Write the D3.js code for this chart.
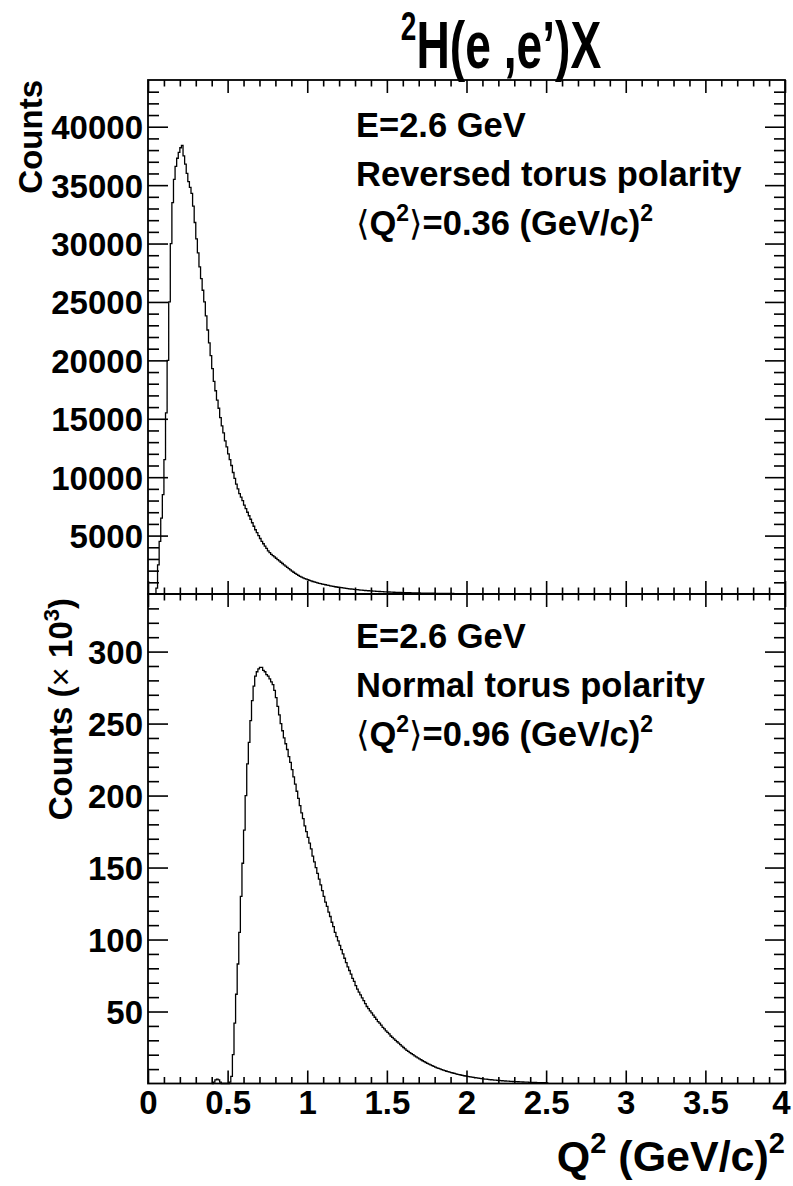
<!DOCTYPE html>
<html><head><meta charset="utf-8">
<script src="https://cdn.jsdelivr.net/npm/d3@7"></script>
<style>
body{margin:0;background:#fff}
svg text{font-family:"Liberation Sans",Arial,Helvetica,sans-serif;font-weight:bold;fill:#000}
</style>
</head><body>
<svg id="c" width="793" height="1186"></svg>
<script>
// ---------------- data ----------------
const binWidth = 0.01;
// Reversed torus polarity, counts per bin, first bin lower edge = topStart
const topStart = 0.04;
const topCounts = [
 0,500,2500,4500,6500,8500,11500,15500,20000,25000,
 30000,33500,35500,36600,37300,37800,38200,38400,37500,36800,
 36000,35300,34800,34300,33200,31800,30400,29200,28000,27000,
 26000,25000,23800,22600,21500,20400,19300,18200,17400,16600,
 15900,15100,14400,13800,13100,12600,12000,11500,11000,10400,
 9900,9400,9000,8600,8300,8000,7600,7300,7000,6700,
 6400,6100,5800,5500,5250,5000,4750,4500,4300,4100,
 3900,3700,3550,3400,3280,3170,3060,2940,2830,2720,
 2610,2500,2390,2280,2170,2060,1960,1860,1770,1680,
 1590,1510,1440,1380,1320,1270,1220,1170,1120,1070,
 1030,990,950,910,880,850,820,790,760,730,
 700,670,650,620,600,580,560,540,520,500,
 480,460,440,430,410,400,380,370,350,340,
 330,310,300,290,280,270,260,250,240,230,
 220,215,205,200,190,185,175,170,165,160,
 150,145,140,135,130,125,120,118,114,110,
 106,102,98,95,92,89,86,83,80,77,
 74,72,70,67,65,63,61,59,57,55,
 53,51,49,48,46,45,43,42,40,39,
 38,36,35,34,33,32,31
];
// Normal torus polarity, counts per bin in units of 10^3
const botStart = 0.40;
const botCounts = [
 0,1.0,2.5,3.0,2.5,1.0,0,0,0,0,
 0,1,5,20,42,62,83,105,130,153,
 176,200,222,237,252,266,276,283,286,288,
 289,289,287,286,284,283,281,279,277,273,
 268,262,256,250,245,240,236,232,227,223,
 218,213,208,203,198,193,188,184,179,175,
 171,167,163,158,154,150,146,142,138,134,
 130,126,123,119,116,112,109,105,102,99,
 96,93,90,87,84,81,78.5,76,73,71,
 68,65.5,63.5,61.5,59.5,57.5,55.5,53.5,52,50.5,
 49,47.5,46,44.5,43,42,40.5,39,38,36.5,
 35.5,34.5,33,32,31,30,29,28,27,26,
 25,24,23,22.3,21.5,20.7,20,19.2,18.5,17.8,
 17.1,16.5,15.8,15.2,14.6,14,13.4,12.9,12.4,11.9,
 11.4,10.9,10.5,10.1,9.7,9.3,8.9,8.5,8.2,7.9,
 7.6,7.3,7.0,6.7,6.4,6.1,5.9,5.6,5.4,5.2,
 5.0,4.8,4.6,4.4,4.2,4.0,3.85,3.7,3.55,3.4,3.25,
 3.1,3.0,2.85,2.7,2.6,2.5,2.4,2.3,2.2,2.1,
 2.0,1.9,1.8,1.75,1.65,1.6,1.5,1.45,1.4,1.3,
 1.25,1.2,1.15,1.1,1.05,1.0,0.95,0.9,0.85,0.8,
 0.77,0.73,0.7,0.66,0.63,0.6,0.57,0.54,0.51,0.48
];
const xTickValues = [0,0.5,1,1.5,2,2.5,3,3.5,4];
const xTickLabels = ["0","0.5","1","1.5","2","2.5","3","3.5","4"];
const topYTicks = [5000,10000,15000,20000,25000,30000,35000,40000];
const topYLabels = ["5000","10000","15000","20000","25000","30000","35000","40000"];
const botYTicks = [50,100,150,200,250,300];
const botYLabels = ["50","100","150","200","250","300"];
const topLines = ["E=2.6 GeV","Reversed torus polarity","0.36"];
const botLines = ["E=2.6 GeV","Normal torus polarity","0.96"];

// ---------------- layout ----------------
const L = 148, R = 785;
const topT = 80, mid = 594, botB = 1083.5;
const svg = d3.select("#c");
const x = d3.scaleLinear([0,4],[L,R]);
const yTop = d3.scaleLinear([0,44000],[mid,topT]);
const yBot = d3.scaleLinear([0,340],[botB,mid]);

const FS = 33;   // tick labels
const TS = 34.5; // info text
const majX = 13, minX = 6.5, majY = 20, minY = 11;

const xMinor = d3.range(0,41).filter(i=>i%5!==0).map(i=>i/10);

function strip(g){ g.select(".domain").remove(); g.selectAll("line").attr("stroke-width",1.6); }

function panel(y, yMaj, yMajLabels, yMinor, yT, yB, showXLabels){
  svg.append("g").attr("transform",`translate(0,${yT})`)
    .call(d3.axisTop(x).tickValues(xTickValues).tickSize(-majX).tickFormat("")).call(strip);
  svg.append("g").attr("transform",`translate(0,${yT})`)
    .call(d3.axisTop(x).tickValues(xMinor).tickSize(-minX).tickFormat("")).call(strip);
  const gb = svg.append("g").attr("transform",`translate(0,${yB})`)
    .call(d3.axisBottom(x).tickValues(xTickValues).tickSize(-majX).tickPadding(7)
      .tickFormat((d,i)=> showXLabels ? xTickLabels[i] : "")).call(strip);
  gb.attr("font-size",FS).attr("font-family",null);
  // keep the last label ("4") inside the page, as in the reference
  gb.selectAll("text").filter(d=>d===4).attr("dx",-4);
  svg.append("g").attr("transform",`translate(0,${yB})`)
    .call(d3.axisBottom(x).tickValues(xMinor).tickSize(-minX).tickFormat("")).call(strip);
  const gl = svg.append("g").attr("transform",`translate(${L},0)`)
    .call(d3.axisLeft(y).tickValues(yMaj).tickSize(-majY).tickPadding(5)
      .tickFormat((d,i)=>yMajLabels[i])).call(strip);
  gl.attr("font-size",FS).attr("font-family",null);
  gl.selectAll("text").attr("dy","0.36em");
  svg.append("g").attr("transform",`translate(${L},0)`)
    .call(d3.axisLeft(y).tickValues(yMinor).tickSize(-minY).tickFormat("")).call(strip);
  svg.append("g").attr("transform",`translate(${R},0)`)
    .call(d3.axisRight(y).tickValues(yMaj).tickSize(-majY).tickFormat("")).call(strip);
  svg.append("g").attr("transform",`translate(${R},0)`)
    .call(d3.axisRight(y).tickValues(yMinor).tickSize(-minY).tickFormat("")).call(strip);
  svg.append("rect").attr("x",L).attr("y",yT).attr("width",R-L).attr("height",yB-yT)
    .attr("fill","none").attr("stroke","#000").attr("stroke-width",1.8);
}

function histPath(start, vals, y){
  const pts = [[start,0]];
  vals.forEach((v,i)=>{ const a = start+i*binWidth; pts.push([a,v]); pts.push([a+binWidth,v]); });
  pts.push([start+vals.length*binWidth,0]);
  return d3.line().x(d=>x(d[0])).y(d=>y(d[1]))(pts);
}

svg.append("path").attr("d",histPath(topStart,topCounts,yTop))
  .attr("fill","none").attr("stroke","#000").attr("stroke-width",1.3);
svg.append("path").attr("d",histPath(botStart,botCounts,yBot))
  .attr("fill","none").attr("stroke","#000").attr("stroke-width",1.3);

panel(yTop, topYTicks, topYLabels,
  d3.range(1,44).filter(i=>i%5!==0).map(i=>i*1000), topT, mid, false);
panel(yBot, botYTicks, botYLabels,
  d3.range(1,34).filter(i=>i%5!==0).map(i=>i*10), mid, botB, true);

// ---------------- texts ----------------
const tg = svg.append("g").attr("transform","translate(501,68) scale(0.7,1)");
const tt = tg.append("text").attr("text-anchor","middle").attr("font-size",66);
tt.append("tspan").attr("font-size",40).attr("dy",-28).text("2");
tt.append("tspan").attr("dy",28).text("H(e ,e’)X");

function meanLine(xp, yp, val){
  const t = svg.append("text").attr("x",xp).attr("y",yp).attr("font-size",TS);
  t.append("tspan").attr("style","font-family:'DejaVu Sans';font-weight:normal").text("⟨");
  t.append("tspan").text("Q");
  t.append("tspan").attr("font-size",23).attr("dy",-14).text("2");
  t.append("tspan").attr("dy",14).attr("style","font-family:'DejaVu Sans';font-weight:normal").text("⟩");
  t.append("tspan").text("="+val+" (GeV/c)");
  t.append("tspan").attr("font-size",23).attr("dy",-14).text("2");
}
function infoBlock(lines, y0){
  svg.append("text").attr("x",356).attr("y",y0).attr("font-size",TS).text(lines[0]);
  svg.append("text").attr("x",356).attr("y",y0+49).attr("font-size",TS).text(lines[1]);
  meanLine(356, y0+98, lines[2]);
}
infoBlock(topLines, 137);
infoBlock(botLines, 648);

svg.append("text").attr("transform","translate(42,80) rotate(-90)")
  .attr("text-anchor","end").attr("font-size",33).text("Counts");
const yb = svg.append("text").attr("transform","translate(72,598) rotate(-90)")
  .attr("text-anchor","end").attr("font-size",33);
yb.append("tspan").text("Counts (");
yb.append("tspan").attr("style","font-weight:normal").text("×");
yb.append("tspan").text(" 10");
yb.append("tspan").attr("font-size",22).attr("dy",-13).text("3");
yb.append("tspan").attr("dy",13).text(")");

const xt = svg.append("text").attr("x",785).attr("y",1171).attr("text-anchor","end").attr("font-size",43);
xt.append("tspan").text("Q");
xt.append("tspan").attr("font-size",29).attr("dy",-18).text("2");
xt.append("tspan").attr("dy",18).text(" (GeV/c)");
xt.append("tspan").attr("font-size",29).attr("dy",-18).text("2");
</script>
</body></html>
